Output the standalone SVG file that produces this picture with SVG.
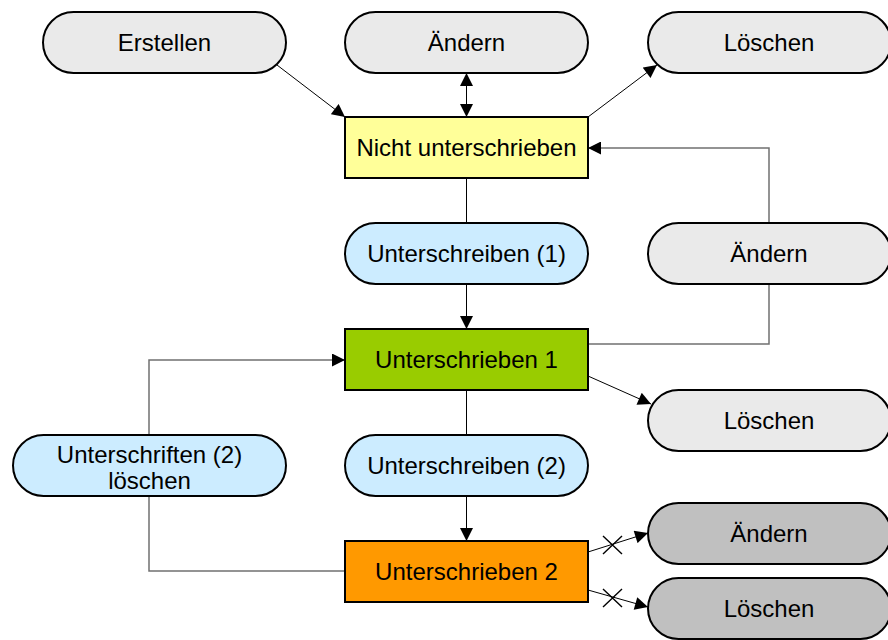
<svg xmlns="http://www.w3.org/2000/svg" width="888" height="640" viewBox="0 0 888 640">
<defs>
<marker id="ah" markerUnits="userSpaceOnUse" viewBox="0 0 14 14" markerWidth="14" markerHeight="13" refX="14" refY="7" orient="auto-start-reverse">
<path d="M0,0 L14,7 L0,14 z" fill="#000"/>
</marker>
<style>
.n{stroke:#000;stroke-width:2}
.g{fill:#EAEAEA}.d{fill:#C0C0C0}.b{fill:#CCECFF}
.t{font-family:"Liberation Sans",Arial,sans-serif;font-size:24px;text-anchor:middle;fill:#000}
.c{fill:none;stroke:#000;stroke-width:1}
.x{fill:none;stroke:#000;stroke-width:1.4}
.o{fill:none;stroke:#707070;stroke-width:1.5}
</style>
</defs>
<rect width="888" height="640" fill="#fff"/>
<g id="connectors">
<path class="c" d="M277,65 L345,117" marker-end="url(#ah)"/>
<path class="c" d="M466.5,73 L466.5,117" marker-start="url(#ah)" marker-end="url(#ah)"/>
<path class="c" d="M588,117 L657,65" marker-end="url(#ah)"/>
<path class="o" d="M769,223 L769,148 L588,148" marker-end="url(#ah)"/>
<path class="c" d="M466.5,178 L466.5,223"/>
<path class="c" d="M466.5,284 L466.5,329" marker-end="url(#ah)"/>
<path class="o" d="M769,284 L769,344 L588,344"/>
<path class="c" d="M588,376 L651,404" marker-end="url(#ah)"/>
<path class="o" d="M149,435 L149,360 L345,360" marker-end="url(#ah)"/>
<path class="o" d="M149,496 L149,571 L345,571"/>
<path class="c" d="M466.5,390 L466.5,435"/>
<path class="c" d="M466.5,496 L466.5,541" marker-end="url(#ah)"/>
<path class="c" d="M588,552 L648,533" marker-end="url(#ah)"/>
<path class="x" d="M603,536 L622,554 M603,554 L622,536"/>
<path class="c" d="M588,590 L648,607" marker-end="url(#ah)"/>
<path class="x" d="M603,589 L622,607 M603,607 L622,589"/>
</g>
<g id="erstellen"><rect class="n g" x="43" y="12" width="243" height="61" rx="30.5"/><text class="t" x="164.5" y="51">Erstellen</text></g>
<g id="aendern-top"><rect class="n g" x="345" y="12" width="243" height="61" rx="30.5"/><text class="t" x="466.5" y="51">Ändern</text></g>
<g id="loeschen-top"><rect class="n g" x="648" y="12" width="243" height="61" rx="30.5"/><text class="t" x="769" y="51">Löschen</text></g>
<g id="nicht-unterschrieben"><rect class="n" fill="#FFFF99" x="345" y="117" width="243" height="61"/><text class="t" x="466.5" y="156">Nicht unterschrieben</text></g>
<g id="unterschreiben-1"><rect class="n b" x="345" y="223" width="243" height="61" rx="30.5"/><text class="t" x="466.5" y="262">Unterschreiben (1)</text></g>
<g id="aendern-mid"><rect class="n g" x="648" y="223" width="243" height="61" rx="30.5"/><text class="t" x="769" y="262">Ändern</text></g>
<g id="unterschrieben-1"><rect class="n" fill="#99CC00" x="345" y="329" width="243" height="61"/><text class="t" x="466.5" y="368">Unterschrieben 1</text></g>
<g id="loeschen-mid"><rect class="n g" x="648" y="390" width="243" height="61" rx="30.5"/><text class="t" x="769" y="429">Löschen</text></g>
<g id="unterschriften-loeschen"><rect class="n b" x="13" y="435" width="273" height="61" rx="30.5"/><text class="t" x="149.5" y="462.5">Unterschriften (2)</text><text class="t" x="149.5" y="488.5">löschen</text></g>
<g id="unterschreiben-2"><rect class="n b" x="345" y="435" width="243" height="61" rx="30.5"/><text class="t" x="466.5" y="474">Unterschreiben (2)</text></g>
<g id="unterschrieben-2"><rect class="n" fill="#FF9900" x="345" y="541" width="243" height="61"/><text class="t" x="466.5" y="580">Unterschrieben 2</text></g>
<g id="aendern-bottom"><rect class="n d" x="648" y="503" width="243" height="61" rx="30.5"/><text class="t" x="769" y="542">Ändern</text></g>
<g id="loeschen-bottom"><rect class="n d" x="648" y="578" width="243" height="61" rx="30.5"/><text class="t" x="769" y="617">Löschen</text></g>
</svg>
